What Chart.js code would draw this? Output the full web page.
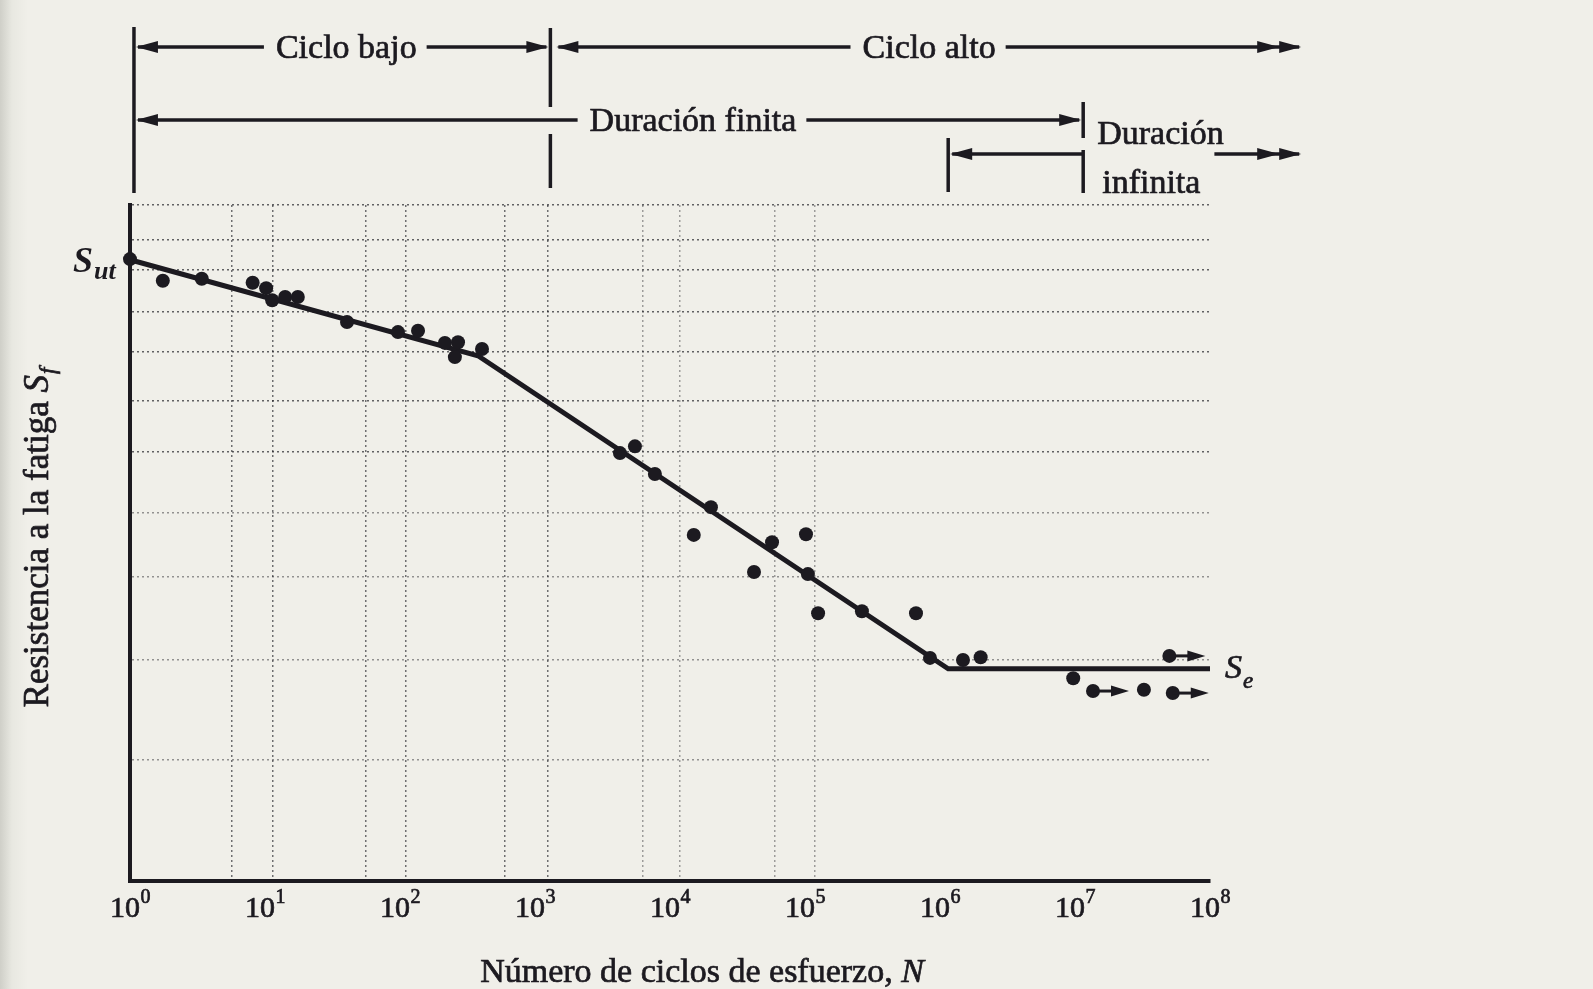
<!DOCTYPE html>
<html lang="es">
<head>
<meta charset="utf-8">
<title>Diagrama S-N</title>
<script src="https://cdn.jsdelivr.net/npm/chart.js@4/dist/chart.umd.min.js"></script>
<style>
  html, body { margin: 0; padding: 0; }
  body { background: linear-gradient(to right, #cfcfc8 0px, #e8e8e1 12px, #f0efe9 28px); }
  #wrap { width: 1593px; height: 989px; }
</style>
</head>
<body>
<div id="wrap"><canvas id="sn" width="1593" height="989"></canvas></div>
<script>
// ensayos: ciclos N y resistencia (escala relativa 0-100, la figura no trae valores)
const testN = [1, 1.75, 3.4, 8.1, 10.2, 11.3, 14.1, 17.5, 40.5, 96.6, 136, 215, 269, 255, 405,
  4260, 5500, 7730, 20100, 15000, 57000, 101700, 41900, 105000, 125000, 264000, 664000,
  843000, 1.48e6, 2.0e6, 9.7e6, 3.24e7];
const testS = [92.0, 88.8, 89.1, 88.5, 87.7, 85.9, 86.4, 86.4, 82.7, 81.2, 81.4, 79.6, 79.7, 77.5, 78.7,
  63.3, 64.3, 60.2, 55.3, 51.2, 50.1, 51.3, 45.7, 45.4, 39.6, 39.9, 39.6,
  33.0, 32.7, 33.1, 30.0, 28.3];

// ensayos que no fallaron (llevan flecha)
const runoutN = [1.36e7, 5.0e7, 5.3e7];
const runoutS = [28.1, 33.3, 27.8];

// curva S-N: Sut -> codo -> Se
const curveN = [1, 378, 1.15e6, 1e8];
const curveS = [91.9, 77.7, 31.4, 31.4];

// ejes
const decadeTicks = [1, 10, 100, 1e3, 1e4, 1e5, 1e6, 1e7, 1e8];
const gridN = [5.7, 11.5, 56, 111, 600, 1250, 6300, 11900, 60000, 118600];
const gridS = [17.9, 32.7, 45.0, 54.4, 63.5, 71.0, 78.3, 84.2, 90.4, 94.8, 100];

// zonas de vida (valores de N como estan dibujados)
const startN = 1.07;
const lowHighN = 1.3e3;
const infStartN = 1.15e6;
const finEndN = 1.15e7;
const arrowEndN = 4.9e8;
const labelN = { bajo: 40, alto: 8.3e5, finita: 1.48e4 };

const INK = '#1c1a20';
const SERIF = '"Liberation Serif", "Times New Roman", serif';

function head(ctx, xTip, y, dir) {
    const len = 22, half = 6;
    ctx.beginPath();
    ctx.moveTo(xTip, y);
    ctx.lineTo(xTip - dir * len, y - half);
    ctx.lineTo(xTip - dir * len, y + half);
    ctx.closePath();
    ctx.fill();
}
function seg(ctx, x1, y1, x2, y2) {
    ctx.beginPath();
    ctx.moveTo(x1, y1);
    ctx.lineTo(x2, y2);
    ctx.stroke();
}
// texto con un poco de "tinta" extra, como en la impresion
function ink(ctx, text, x, y) {
    ctx.fillText(text, x, y);
    const lw = ctx.lineWidth;
    ctx.lineWidth = 0.7;
    ctx.strokeText(text, x, y);
    ctx.lineWidth = lw;
}

// texto de zonas arriba del grafico
const lifeZones = {
    id: 'lifeZones',
    afterDraw(chart) {
        const ctx = chart.ctx;
        const xs = chart.scales.x;
        const px = v => xs.getPixelForValue(v);
        ctx.save();
        ctx.fillStyle = INK;
        ctx.strokeStyle = INK;
        ctx.lineWidth = 3.5;
        ctx.font = '34px ' + SERIF;
        ctx.textAlign = 'center';
        ctx.textBaseline = 'alphabetic';

        const x0 = px(startN), x3 = px(lowHighN), x6 = px(infStartN), x7 = px(finEndN), xe = px(arrowEndN);

        // verticales
        seg(ctx, x0, 27, x0, 193);
        seg(ctx, x3, 28, x3, 107);
        seg(ctx, x3, 134, x3, 188);
        seg(ctx, x6, 138, x6, 192);
        seg(ctx, x7, 102, x7, 138);
        seg(ctx, x7, 150, x7, 193);

        function row(y, xa, xb, text, cx, rightHeads) {
            const w = ctx.measureText(text).width;
            seg(ctx, xa + 4, y, cx - w / 2 - 12, y);
            seg(ctx, cx + w / 2 + 10, y, xb - 4, y);
            head(ctx, xa + 2, y, -1);
            head(ctx, xb - 2, y, 1);
            if (rightHeads > 1) head(ctx, xb - 24, y, 1);
            ink(ctx, text, cx, y + 11);
        }
        row(47, x0, x3, 'Ciclo bajo', px(labelN.bajo), 1);
        row(47, x3 + 4, xe, 'Ciclo alto', px(labelN.alto), 2);
        row(120, x0, x7, 'Duración finita', px(labelN.finita), 1);

        // duracion infinita
        ctx.textAlign = 'left';
        ink(ctx, 'Duración', x7 + 14, 144);
        ink(ctx, 'infinita', x7 + 19, 193);
        const wi = ctx.measureText('infinita').width;
        seg(ctx, x6 + 4, 154, x7, 154);
        head(ctx, x6 + 2, 154, -1);
        seg(ctx, x7 + 19 + wi + 14, 154, xe - 4, 154);
        head(ctx, xe - 2, 154, 1);
        head(ctx, xe - 24, 154, 1);
        ctx.restore();
    }
};

// flechas de ensayos sin falla, rotulos, etiquetas 10^n y titulos de ejes
const extras = {
    id: 'extras',
    afterDatasetsDraw(chart) {
        const ctx = chart.ctx;
        const xs = chart.scales.x, ys = chart.scales.y;
        const area = chart.chartArea;
        ctx.save();
        ctx.fillStyle = INK;
        ctx.strokeStyle = INK;
        ctx.lineWidth = 3;
        runoutN.forEach((n, i) => {
            const x = xs.getPixelForValue(n), y = ys.getPixelForValue(runoutS[i]);
            seg(ctx, x, y, x + 20, y);
            ctx.beginPath();
            ctx.moveTo(x + 36, y);
            ctx.lineTo(x + 18, y - 5.5);
            ctx.lineTo(x + 18, y + 5.5);
            ctx.closePath();
            ctx.fill();
        });

        ctx.textAlign = 'left';
        ctx.textBaseline = 'alphabetic';

        // etiquetas de las decadas: 10 con exponente
        decadeTicks.forEach(v => {
            const x = xs.getPixelForValue(v);
            const e = String(Math.round(Math.log10(v)));
            ctx.font = '30px ' + SERIF;
            const wb = ctx.measureText('10').width;
            ctx.font = '20px ' + SERIF;
            const we = ctx.measureText(e).width;
            const sx = x - (wb + we) / 2;
            ctx.font = '30px ' + SERIF;
            ink(ctx, '10', sx, area.bottom + 36);
            ctx.font = '20px ' + SERIF;
            ink(ctx, e, sx + wb + 0.5, area.bottom + 22);
        });

        // Sut
        const yut = ys.getPixelForValue(curveS[0]);
        ctx.font = 'italic bold 36px ' + SERIF;
        ctx.fillText('S', 73, yut + 12);
        let w = ctx.measureText('S').width;
        ctx.font = 'italic bold 26px ' + SERIF;
        ctx.fillText('ut', 73 + w + 1, yut + 19);

        // Se
        const ye = ys.getPixelForValue(curveS[curveS.length - 1]);
        const xe = area.right + 15;
        ctx.font = 'italic 34px ' + SERIF;
        ink(ctx, 'S', xe, ye + 9);
        w = ctx.measureText('S').width;
        ctx.font = 'italic 23px ' + SERIF;
        ink(ctx, 'e', xe + w + 1, ye + 19);

        // titulo eje x
        const tx1 = 'Número de ciclos de esfuerzo, ';
        ctx.font = '34px ' + SERIF;
        const w1 = ctx.measureText(tx1).width;
        ctx.font = 'italic 34px ' + SERIF;
        const w2 = ctx.measureText('N').width;
        let sx = 702 - (w1 + w2) / 2;
        ctx.font = '34px ' + SERIF;
        ink(ctx, tx1, sx, 982);
        ctx.font = 'italic 34px ' + SERIF;
        ink(ctx, 'N', sx + w1, 982);

        // titulo eje y (girado)
        const ty = 'Resistencia a la fatiga ';
        ctx.translate(48, (area.top + area.bottom) / 2 - 5);
        ctx.rotate(-Math.PI / 2);
        ctx.font = '35px ' + SERIF;
        const a = ctx.measureText(ty).width;
        ctx.font = 'italic 35px ' + SERIF;
        const b = ctx.measureText('S').width;
        ctx.font = 'italic 23px ' + SERIF;
        const c = ctx.measureText('f').width;
        sx = -(a + b + c) / 2;
        ctx.font = '35px ' + SERIF;
        ink(ctx, ty, sx, 0);
        ctx.font = 'italic 35px ' + SERIF;
        ink(ctx, 'S', sx + a, 0);
        ctx.font = 'italic 23px ' + SERIF;
        ink(ctx, 'f', sx + a + b + 1, 7);
        ctx.restore();
    }
};

const chart = new Chart(document.querySelector('#sn'), {
    type: 'scatter',
    data: {
        datasets: [{
            label: 'Ensayos',
            data: testN.map((n, i) => ({ x: n, y: testS[i] })),
            backgroundColor: INK,
            borderWidth: 0,
            pointRadius: 7,
            clip: false
        }, {
            label: 'Sin falla',
            data: runoutN.map((n, i) => ({ x: n, y: runoutS[i] })),
            backgroundColor: INK,
            borderWidth: 0,
            pointRadius: 7,
            clip: false
        }, {
            label: 'Curva S-N',
            data: curveN.map((n, i) => ({ x: n, y: curveS[i] })),
            showLine: true,
            borderColor: INK,
            borderWidth: 5,
            pointRadius: 0,
            clip: false
        }]
    },
    options: {
        responsive: false,
        animation: false,
        devicePixelRatio: 1,
        layout: {
            padding: { top: 205, left: 130, right: 383, bottom: 0 }
        },
        plugins: {
            legend: { display: false },
            tooltip: { enabled: false }
        },
        scales: {
            x: {
                type: 'logarithmic',
                min: 1,
                max: 1e8,
                afterBuildTicks: axis => {
                    axis.ticks = decadeTicks.concat(gridN).sort((p, q) => p - q).map(v => ({ value: v }));
                },
                afterFit: axis => { axis.height = 108; },
                grid: {
                    drawTicks: false,
                    lineWidth: 1.5,
                    color: c => {
                        if (!c.tick || !gridN.includes(c.tick.value)) return 'rgba(0,0,0,0)';
                        return c.tick.value < 2000 ? 'rgba(30,30,35,0.62)' : 'rgba(30,30,35,0.4)';
                    }
                },
                border: {
                    display: true,
                    color: INK,
                    width: 4,
                    dash: [2, 3]
                },
                ticks: { display: false }
            },
            y: {
                min: 0,
                max: 100,
                afterBuildTicks: axis => {
                    axis.ticks = gridS.map(v => ({ value: v }));
                },
                afterFit: axis => { axis.width = 0; },
                grid: {
                    drawTicks: false,
                    lineWidth: 1.6,
                    color: c => (c.tick && c.tick.value > 60) ? 'rgba(30,30,35,0.68)' : 'rgba(30,30,35,0.45)'
                },
                border: {
                    display: true,
                    color: INK,
                    width: 4,
                    dash: [2, 3]
                },
                ticks: { display: false }
            }
        }
    },
    plugins: [lifeZones, extras]
});
</script>
</body>
</html>
